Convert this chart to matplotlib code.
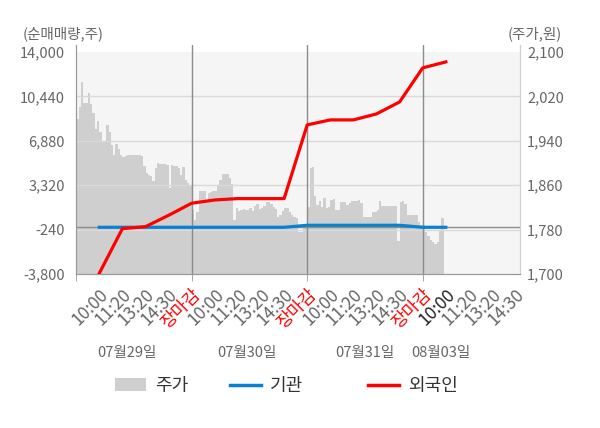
import numpy as np
import matplotlib
matplotlib.use("Agg")
import matplotlib.pyplot as plt
from matplotlib.patches import Patch
from matplotlib.lines import Line2D

plt.rcParams['font.family'] = ['Noto Sans CJK KR', 'DejaVu Sans']

# 주가 (분봉, 0.1 칸 간격)
price_0729 = [1979, 2000, 2045, 2008, 2008, 2026, 2007, 1990, 1962, 1976,
              1955, 1940, 1937, 1968, 1955, 1933, 1914, 1934, 1925, 1914,
              1911, 1913, 1914, 1914, 1914, 1914, 1914, 1914, 1912, 1895,
              1882, 1878, 1876, 1868, 1890, 1900, 1898, 1898, 1898, 1897,
              1855, 1896, 1894, 1895, 1890, 1878, 1893, 1870, 1864, 1859]
price_0730 = [1815, 1797, 1812, 1850, 1850, 1850, 1830, 1845, 1848, 1850,
              1850, 1858, 1869, 1880, 1880, 1880, 1872, 1862, 1797, 1818,
              1814, 1815, 1817, 1815, 1815, 1818, 1814, 1822, 1826, 1817,
              1818, 1823, 1830, 1829, 1826, 1821, 1817, 1802, 1806, 1813,
              1818, 1818, 1812, 1806, 1802, 1800, 1775, 1775, 1790, 1787]
price_0731 = [1820, 1890, 1893, 1840, 1824, 1832, 1820, 1836, 1818, 1820,
              1834, 1835, 1816, 1815, 1830, 1830, 1829, 1824, 1828, 1832,
              1832, 1832, 1834, 1828, 1803, 1803, 1803, 1803, 1812, 1812,
              1815, 1831, 1822, 1822, 1822, 1822, 1822, 1822, 1822, 1760,
              1830, 1832, 1826, 1806, 1806, 1806, 1806, 1806, 1794, 1788]
price_0803 = [1788, 1775, 1768, 1762, 1758, 1754, 1758, 1778, 1800, 1812]
price = price_0729 + price_0730 + price_0731 + price_0803

# 순매매량 (10:00 ~ 08/03 10:00)
foreign = [-3750, -170, -10, 900, 1870, 2130, 2240, 2240, 2240,
           8150, 8550, 8550, 9030, 9990, 12720, 13200]
institution = [-60, -60, -60, -60, -60, -60, -60, -60, -60,
               100, 100, 100, 100, 100, -60, -60]

tick_labels = ['10:00', '11:20', '13:20', '14:30', '장마감',
               '10:00', '11:20', '13:20', '14:30', '장마감',
               '10:00', '11:20', '13:20', '14:30', '장마감',
               '10:00', '11:20', '13:20', '14:30']
dates = ['07월29일', '07월30일', '07월31일', '08월03일']
date_pos = [2.2, 7.4, 12.5, 15.8]

left_ticks = [-3800, -240, 3320, 6880, 10440, 14000]
right_ticks = [1700, 1780, 1860, 1940, 2020, 2100]

fig = plt.figure(figsize=(6, 4.28), dpi=100)
ax2 = fig.add_axes([0.127, 0.36, 0.74, 0.535])
ax = ax2.twinx()
# 선 그래프를 위에, 주가 영역은 아래에
ax.yaxis.tick_left()
ax2.yaxis.tick_right()
ax.set_zorder(ax2.get_zorder() + 1)
ax.patch.set_visible(False)
ax.xaxis.set_visible(True)

xp = np.arange(len(price)) * 0.1
ax2.axhspan(1700, 2100, color='#f5f5f5', zorder=0, lw=0)
ax2.fill_between(xp, 1700, price, step='post', color='#cfcfcf', lw=0, zorder=1)
ax2.set_ylim(1700, 2112.6)
ax2.set_yticks(right_ticks)
ax2.set_yticklabels([f'{v:,}' for v in right_ticks])

xs = np.arange(1, len(foreign) + 1)
for v in left_ticks[1:-1]:
    ax.axhline(v, color='#d9d9d9', lw=1, zorder=1)
ax.axhline(0, color='#8c8c8c', lw=1, zorder=2)
for v in [5, 10, 15]:
    ax.axvline(v, color='#8c8c8c', lw=1, zorder=2)
ax.plot(xs, institution, color='#0a80d0', lw=2.3, zorder=3)
ax.plot(xs, foreign, color='#ff0000', lw=2.3, zorder=4)
ax.set_ylim(-3800, 14560)
ax.set_yticks(left_ticks)
ax.set_yticklabels([f'{v:,}' for v in left_ticks])
ax.set_xlim(0.06, 19.22)

ax.set_xticks(range(1, 20))
ax.set_xticklabels(tick_labels, rotation=45, ha='right', rotation_mode='anchor')
ax.xaxis.remove_overlapping_locs = False
ax.set_xticks([0, 5, 10, 15], minor=True)
ax.tick_params(axis='x', which='major', length=0, pad=8, labelsize=12.5, labelcolor='#666666')
ax.tick_params(axis='x', which='minor', length=5, color='#999999')
ax.tick_params(axis='y', length=0, pad=8, labelsize=10.5, labelcolor='#666666')
ax2.tick_params(axis='y', length=0, pad=5, labelsize=10.5, labelcolor='#666666')
ax2.tick_params(axis='x', which='both', bottom=False, labelbottom=False)
for lbl in ax.get_xticklabels():
    if lbl.get_text() == '장마감':
        lbl.set_color('red')
ax.get_xticklabels()[15].set_color('#222222')

for a in (ax, ax2):
    a.spines['top'].set_visible(False)
    a.spines['left'].set_color('#999999')
    a.spines['bottom'].set_color('#999999')
    a.spines['right'].set_color('#d0d0d0')

for d, p in zip(dates, date_pos):
    ax.text(p, -0.345, d, transform=ax.get_xaxis_transform(), ha='center', va='center',
            fontsize=10.5, color='#666666')

fig.text(0.037, 0.922, '(순매매량,주)', fontsize=10.5, color='#666666', va='center')
fig.text(0.937, 0.922, '(주가,원)', fontsize=10.5, color='#666666', va='center', ha='right')

# 범례: 항목별 위치 지정
legend_items = [(Patch(facecolor='#cfcfcf', edgecolor='none'), '주가', 115),
                (Line2D([0], [0], color='#0a80d0', lw=2.5), '기관', 230),
                (Line2D([0], [0], color='#ff0000', lw=2.5), '외국인', 368)]
for h, name, px in legend_items:
    fig.legend([h], [name], loc='center left', bbox_to_anchor=(px / 600, 1 - 386 / 428),
               frameon=False, fontsize=13, handlelength=1.7, handletextpad=0.5,
               borderpad=0, borderaxespad=0, labelcolor='#333333')

fig.savefig('out.png', dpi=100)
